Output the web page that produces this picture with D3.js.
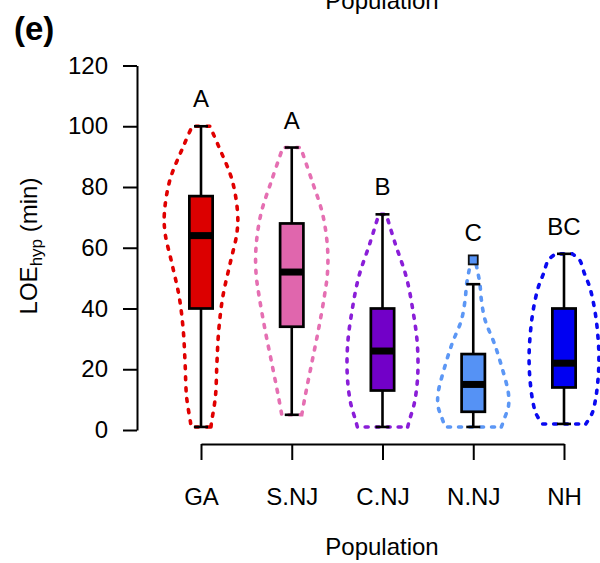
<!DOCTYPE html>
<html><head><meta charset="utf-8">
<script src="https://cdn.jsdelivr.net/npm/d3@7"></script>
<style>
html,body{margin:0;padding:0;background:#fff;}
svg{display:block;font-family:"Liberation Sans",Arial,Helvetica,sans-serif;}
</style>
</head><body>
<svg id="chart" width="600" height="563"></svg>
<script>
// ---- data ----
const categories = ["GA", "S.NJ", "C.NJ", "N.NJ", "NH"];
const letters    = ["A", "A", "B", "C", "BC"];
const mins    = [1, 5, 1, 1, 2];
const q1s     = [40, 34, 13, 6, 14];
const medians = [64, 52, 26, 15, 22];
const q3s     = [77, 68, 40, 25, 40];
const maxs    = [100, 93, 71, 48, 58];
const outliers = [[], [], [], [56], []];
const boxColors    = ["#dc0000", "#e066ad", "#7200c8", "#5592f5", "#0000f2"];
const violinColors = ["#e00000", "#e56fb2", "#8a1ed8", "#5c97f5", "#0a0af0"];
const yTicks = [0, 20, 40, 60, 80, 100, 120];
// violin outlines: [value, relative density]
const violinGA  = [[1,0.27],[2.2,0.28],[11,0.39],[22,0.43],[32.9,0.48],[43.9,0.59],[55,0.79],[64.8,0.97],[71.3,0.99],[82.3,0.84],[93.3,0.48],[100,0.24]];
const violinSNJ = [[5,0.27],[11,0.36],[22,0.54],[32.9,0.72],[43.9,0.88],[51.6,0.965],[60.3,0.965],[71.3,0.83],[82.3,0.54],[93,0.24]];
const violinCNJ = [[1,0.68],[3.3,0.73],[8.8,0.86],[17.5,0.95],[28.5,0.94],[39.5,0.82],[50.5,0.64],[61.5,0.34],[71,0.1]];
const violinNNJ = [[1,0.76],[4.4,0.86],[7.7,0.95],[12.1,0.95],[20.8,0.77],[28.5,0.57],[36.2,0.32],[42.8,0.22],[48,0.18],[52.7,0.11],[56,0.05]];
const violinNH  = [[2,0.59],[5.5,0.76],[9.9,0.85],[15.4,0.91],[20.8,0.94],[26.3,0.94],[31.8,0.91],[37.3,0.86],[42.8,0.78],[47.2,0.69],[51.6,0.55],[56,0.42],[58,0.22]];
const violins = [violinGA, violinSNJ, violinCNJ, violinNNJ, violinNH];

// ---- drawing ----
const svg = d3.select("#chart");
const FONT = 24;
const y = d3.scaleLinear().domain([0, 120]).range([430, 65.5]);
const x = d3.scalePoint().domain(categories).range([201, 564]);
const w = d3.scaleLinear().domain([0, 1]).range([0, 37]);
const boxW = 23.3, capW = 14;

// cut-off title of the panel above
svg.append("text").attr("x", 382).attr("y", 9).attr("text-anchor", "middle")
  .attr("font-size", FONT).text("Population");

// panel label
svg.append("text").attr("x", 14).attr("y", 40).attr("font-size", 33)
  .attr("font-weight", "bold").text("(e)");

// y axis
const yAxis = svg.append("g").attr("transform", "translate(137,0)")
  .call(d3.axisLeft(y).tickValues(yTicks).tickSize(14).tickSizeOuter(0).tickPadding(15));
yAxis.select(".domain").attr("stroke", "#000").attr("stroke-width", 2);
yAxis.selectAll(".tick line").attr("stroke", "#000").attr("stroke-width", 2);
yAxis.selectAll(".tick text").attr("font-size", FONT).attr("font-family", null).attr("fill", "#000");

// x axis
const xAxis = svg.append("g").attr("transform", "translate(0,444)")
  .call(d3.axisBottom(x).tickSize(16).tickSizeOuter(0).tickPadding(28));
xAxis.select(".domain").attr("stroke", "#000").attr("stroke-width", 2);
xAxis.selectAll(".tick line").attr("stroke", "#000").attr("stroke-width", 2);
xAxis.selectAll(".tick text").attr("font-size", FONT).attr("font-family", null).attr("fill", "#000");

// axis titles
svg.append("text").attr("x", 382).attr("y", 555).attr("text-anchor", "middle")
  .attr("font-size", FONT).text("Population");
const yl = svg.append("text").attr("transform", "translate(37,246) rotate(-90)")
  .attr("text-anchor", "middle").attr("font-size", FONT);
yl.append("tspan").text("LOE");
yl.append("tspan").attr("font-size", 17).attr("dy", 5).text("hyp");
yl.append("tspan").attr("dy", -5).text(" (min)");

// violins
const area = d3.area().curve(d3.curveCatmullRom.alpha(0.5));
categories.forEach((c, i) => {
  const cx = x(c);
  area.y(d => y(d[0])).x0(d => cx - w(d[1])).x1(d => cx + w(d[1]));
  svg.append("path").datum(violins[i]).attr("d", area)
    .attr("fill", "none").attr("stroke", violinColors[i]).attr("stroke-width", 3.6)
    .attr("stroke-dasharray", "3 8").attr("stroke-linecap", "round");
});

// boxplots
categories.forEach((c, i) => {
  const cx = x(c);
  const g = svg.append("g");
  g.append("line").attr("x1", cx).attr("x2", cx).attr("y1", y(q3s[i])).attr("y2", y(maxs[i]))
    .attr("stroke", "#000").attr("stroke-width", 2.6);
  g.append("line").attr("x1", cx).attr("x2", cx).attr("y1", y(q1s[i])).attr("y2", y(mins[i]))
    .attr("stroke", "#000").attr("stroke-width", 2.6);
  [maxs[i], mins[i]].forEach(v => {
    g.append("line").attr("x1", cx - capW / 2).attr("x2", cx + capW / 2)
      .attr("y1", y(v)).attr("y2", y(v)).attr("stroke", "#000").attr("stroke-width", 2.6);
  });
  g.append("rect").attr("x", cx - boxW / 2).attr("width", boxW)
    .attr("y", y(q3s[i])).attr("height", y(q1s[i]) - y(q3s[i]))
    .attr("fill", boxColors[i]).attr("stroke", "#000").attr("stroke-width", 2.7);
  g.append("line").attr("x1", cx - boxW / 2).attr("x2", cx + boxW / 2)
    .attr("y1", y(medians[i])).attr("y2", y(medians[i]))
    .attr("stroke", "#000").attr("stroke-width", 7);
  outliers[i].forEach(v => {
    g.append("rect").attr("x", cx - 4.5).attr("y", y(v) - 4.5).attr("width", 9).attr("height", 9)
      .attr("fill", boxColors[i]).attr("stroke", "#111").attr("stroke-width", 1.8);
  });
  const top = d3.max([maxs[i], ...outliers[i]]);
  svg.append("text").attr("x", cx).attr("y", y(top) - 19).attr("text-anchor", "middle")
    .attr("font-size", FONT).text(letters[i]);
});
</script>
</body></html>
